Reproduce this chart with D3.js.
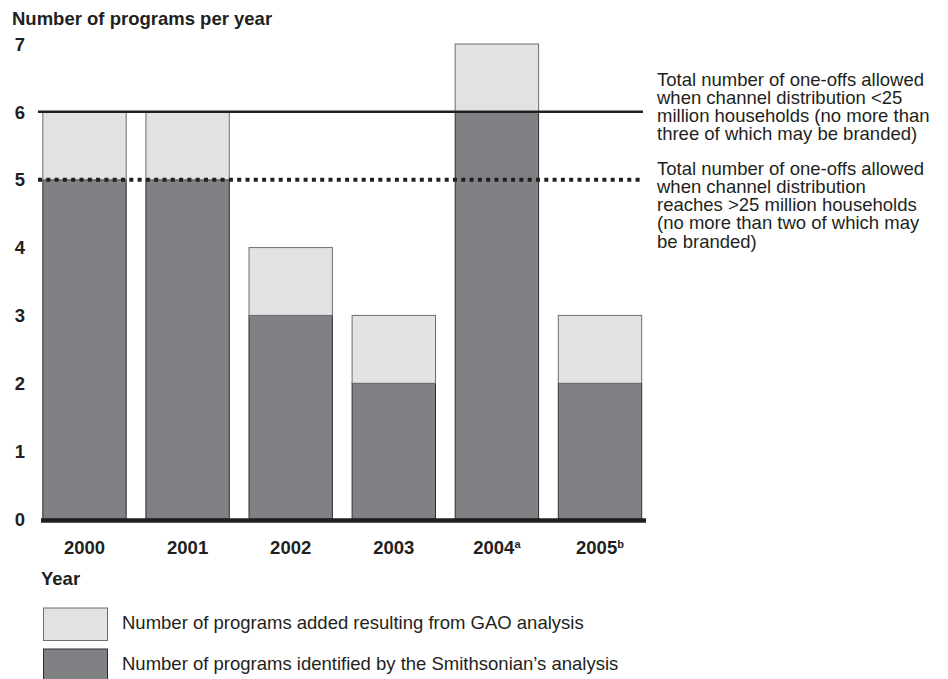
<!DOCTYPE html>
<html>
<head>
<meta charset="utf-8">
<script src="https://d3js.org/d3.v7.min.js"></script>
<style>
  body { margin: 0; background: #fff; }
  text { font-family: "Liberation Sans", Arial, sans-serif; fill: #231f20; }
</style>
</head>
<body>
<svg width="948" height="679"></svg>
<script>
// data
var years = ['2000', '2001', '2002', '2003', '2004', '2005'];
var notes = ['', '', '', '', 'a', 'b'];
var smithsonian = [5, 5, 3, 2, 6, 2];
var gaoAdded = [1, 1, 1, 1, 1, 1];
var yTicks = [0, 1, 2, 3, 4, 5, 6, 7];
var limitSmall = 6;   // channel distribution < 25 million
var limitLarge = 5;   // channel distribution > 25 million
var noteSmall = ['Total number of one-offs allowed', 'when channel distribution <25',
  'million households (no more than', 'three of which may be branded)'];
var noteLarge = ['Total number of one-offs allowed', 'when channel distribution',
  'reaches >25 million households', '(no more than two of which may', 'be branded)'];
var legendLabels = ['Number of programs added resulting from GAO analysis',
  'Number of programs identified by the Smithsonian\u2019s analysis'];

var light = '#e1e2e4', dark = '#808185', ink = '#231f20';
var fs = '18.5px';

var svg = d3.select('svg');

var x = d3.scaleBand().domain(years).range([32.5, 652]).paddingInner(0.191).paddingOuter(0.1);
var y = d3.scaleLinear().domain([0, 7]).range([519, 44]);

// title
svg.append('text').attr('x', 12).attr('y', 25)
  .style('font-size', fs).style('font-weight', 'bold')
  .text('Number of programs per year');

// y tick labels
svg.append('g').selectAll('text')
  .data(yTicks).enter().append('text')
  .attr('x', 25).attr('y', function(d) { return y(d); })
  .attr('dy', '0.36em')
  .attr('text-anchor', 'end')
  .style('font-size', fs).style('font-weight', 'bold')
  .text(function(d) { return d; });

// bars: smithsonian at bottom, GAO added stacked on top
var bars = svg.append('g');
bars.selectAll('rect.base')
  .data(years).enter().append('rect')
  .attr('class', 'base')
  .attr('x', function(d) { return x(d); })
  .attr('width', x.bandwidth())
  .attr('y', function(d, i) { return y(smithsonian[i]); })
  .attr('height', function(d, i) { return y(0) - y(smithsonian[i]); })
  .attr('fill', dark).attr('stroke', '#2f2f30').attr('stroke-width', 1);
bars.selectAll('rect.added')
  .data(years).enter().append('rect')
  .attr('class', 'added')
  .attr('x', function(d) { return x(d); })
  .attr('width', x.bandwidth())
  .attr('y', function(d, i) { return y(smithsonian[i] + gaoAdded[i]); })
  .attr('height', function(d, i) { return y(smithsonian[i]) - y(smithsonian[i] + gaoAdded[i]); })
  .attr('fill', light).attr('stroke', '#6d6e70').attr('stroke-width', 1);

// limit lines
svg.append('line')
  .attr('x1', 38).attr('x2', 643)
  .attr('y1', y(limitSmall)).attr('y2', y(limitSmall))
  .attr('stroke', ink).attr('stroke-width', 2.5);
svg.append('line')
  .attr('x1', 38).attr('x2', 643)
  .attr('y1', y(limitLarge)).attr('y2', y(limitLarge))
  .attr('stroke', ink).attr('stroke-width', 4)
  .attr('stroke-dasharray', '4,4.3');

// baseline
svg.append('line')
  .attr('x1', 41).attr('x2', 646)
  .attr('y1', y(0) + 1.5).attr('y2', y(0) + 1.5)
  .attr('stroke', ink).attr('stroke-width', 4.5);

// year labels with footnote marks
var yl = svg.append('g').selectAll('text')
  .data(years).enter().append('text')
  .attr('x', function(d) { return x(d) + x.bandwidth() / 2; })
  .attr('y', 554)
  .attr('text-anchor', 'middle')
  .style('font-size', fs).style('font-weight', 'bold');
yl.append('tspan').text(function(d) { return d; });
yl.append('tspan')
  .attr('dy', function(d, i) { return notes[i] ? -6 : 0; })
  .style('font-size', '11px')
  .text(function(d, i) { return notes[i]; });

svg.append('text').attr('x', 41).attr('y', 585)
  .style('font-size', fs).style('font-weight', 'bold')
  .text('Year');

// annotations for the limit lines
function note(lines, y0) {
  svg.append('g').selectAll('text')
    .data(lines).enter().append('text')
    .attr('x', 657)
    .attr('y', function(d, i) { return y0 + i * 18.3; })
    .style('font-size', fs)
    .text(function(d) { return d; });
}
note(noteSmall, 85.5);
note(noteLarge, 174.5);

// legend
var legend = svg.append('g');
legend.selectAll('rect')
  .data(legendLabels).enter().append('rect')
  .attr('x', 43.5).attr('width', 64)
  .attr('y', function(d, i) { return 608 + i * 41; })
  .attr('height', 32.5)
  .attr('fill', function(d, i) { return i === 0 ? light : dark; })
  .attr('stroke', function(d, i) { return i === 0 ? '#6d6e70' : '#2f2f30'; })
  .attr('stroke-width', 1);
legend.selectAll('text')
  .data(legendLabels).enter().append('text')
  .attr('x', 122)
  .attr('y', function(d, i) { return 629 + i * 40.5; })
  .style('font-size', fs)
  .text(function(d) { return d; });
</script>
</body>
</html>
